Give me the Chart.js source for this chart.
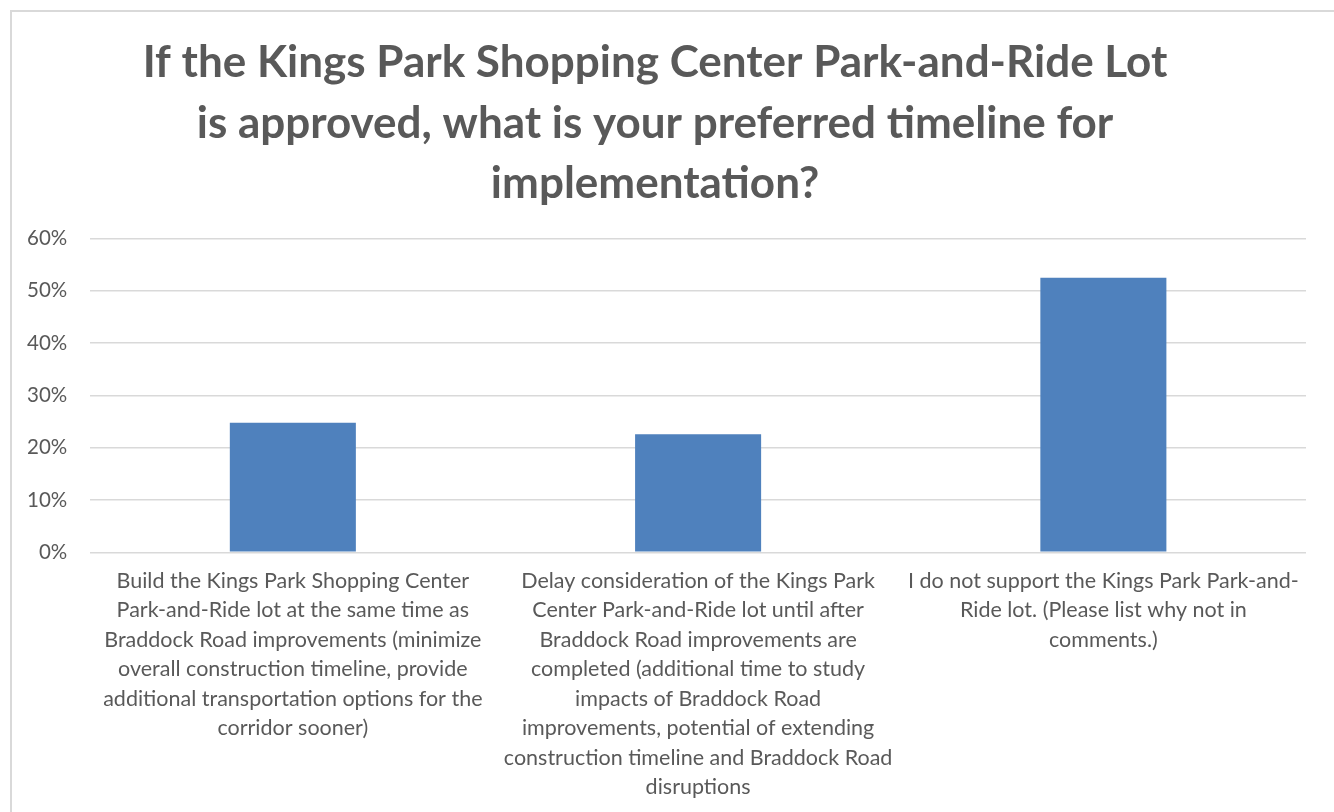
<!DOCTYPE html>
<html>
<head>
<meta charset="utf-8">
<script src="https://cdn.jsdelivr.net/npm/chart.js@4"></script>
<style>
  body { margin: 0; background: #fff; }
  #wrap { position: relative; width: 1334px; height: 812px; }
  #frame { position: absolute; left: 10px; top: 10px; width: 1400px; height: 900px;
           border-left: 2px solid #d9d9d9; border-top: 2px solid #d9d9d9; box-sizing: border-box; }
  canvas { position: absolute; left: 0; top: 0; }
</style>
</head>
<body>
<div id="wrap">
  <div id="frame"></div>
  <canvas id="timelineChart" width="1334" height="812"></canvas>
</div>
<script>
// Titre sur trois lignes, comme dans le graphique d'origine
const titleLines = [
    'If the Kings Park Shopping Center Park-and-Ride Lot',
    'is approved, what is your preferred timeline for',
    'implementation?'
];

// Réponses (chaque réponse coupée en lignes)
const categories = [
    ['Build the Kings Park Shopping Center', 'Park-and-Ride lot at the same time as', 'Braddock Road improvements (minimize',
     'overall construction timeline, provide', 'additional transportation options for the', 'corridor sooner)'],
    ['Delay consideration of the Kings Park', 'Center Park-and-Ride lot until after', 'Braddock Road improvements are',
     'completed (additional time to study', 'impacts of Braddock Road', 'improvements, potential of extending',
     'construction timeline and Braddock Road', 'disruptions'],
    ['I do not support the Kings Park Park-and-', 'Ride lot. (Please list why not in', 'comments.)']
];

// Pourcentages des réponses
const shares = [24.8, 22.6, 52.5];

// Graduations de l'axe Y
const yTicks = [0, 10, 20, 30, 40, 50, 60];

const textColor = '#595959';
const fontFamily = 'Lato, "Open Sans", sans-serif';

const ctx = document.getElementById('timelineChart').getContext('2d');
const timelineChart = new Chart(ctx, {
    type: 'bar',
    data: {
        labels: categories,
        datasets: [{
            label: 'Share',
            data: shares,
            backgroundColor: '#4f81bd',
            borderWidth: 0,
            categoryPercentage: 1,
            barPercentage: 0.311
        }]
    },
    options: {
        responsive: false,
        animation: false,
        layout: {
            padding: { left: 4, right: 28, top: 33, bottom: -4 }
        },
        plugins: {
            legend: { display: false },
            tooltip: { enabled: false },
            title: {
                display: true,
                text: titleLines,
                color: textColor,
                font: { family: fontFamily, size: 44, weight: 'bold', lineHeight: 1.375 },
                padding: { top: 0, bottom: 24 }
            }
        },
        scales: {
            x: {
                grid: { display: false, drawTicks: false },
                border: { display: false },
                ticks: {
                    color: textColor,
                    font: { family: fontFamily, size: 21.5, lineHeight: 1.37 },
                    maxRotation: 0,
                    autoSkip: false,
                    padding: 14
                }
            },
            y: {
                min: 0,
                max: 60,
                afterBuildTicks: (axis) => { axis.ticks = yTicks.map(v => ({ value: v })); },
                grid: { color: '#d9d9d9', lineWidth: 1.5, drawTicks: false },
                border: { display: false },
                ticks: {
                    color: textColor,
                    font: { family: fontFamily, size: 20.5 },
                    padding: 23,
                    callback: (v) => v + '%'
                }
            }
        }
    }
});
</script>
</body>
</html>
